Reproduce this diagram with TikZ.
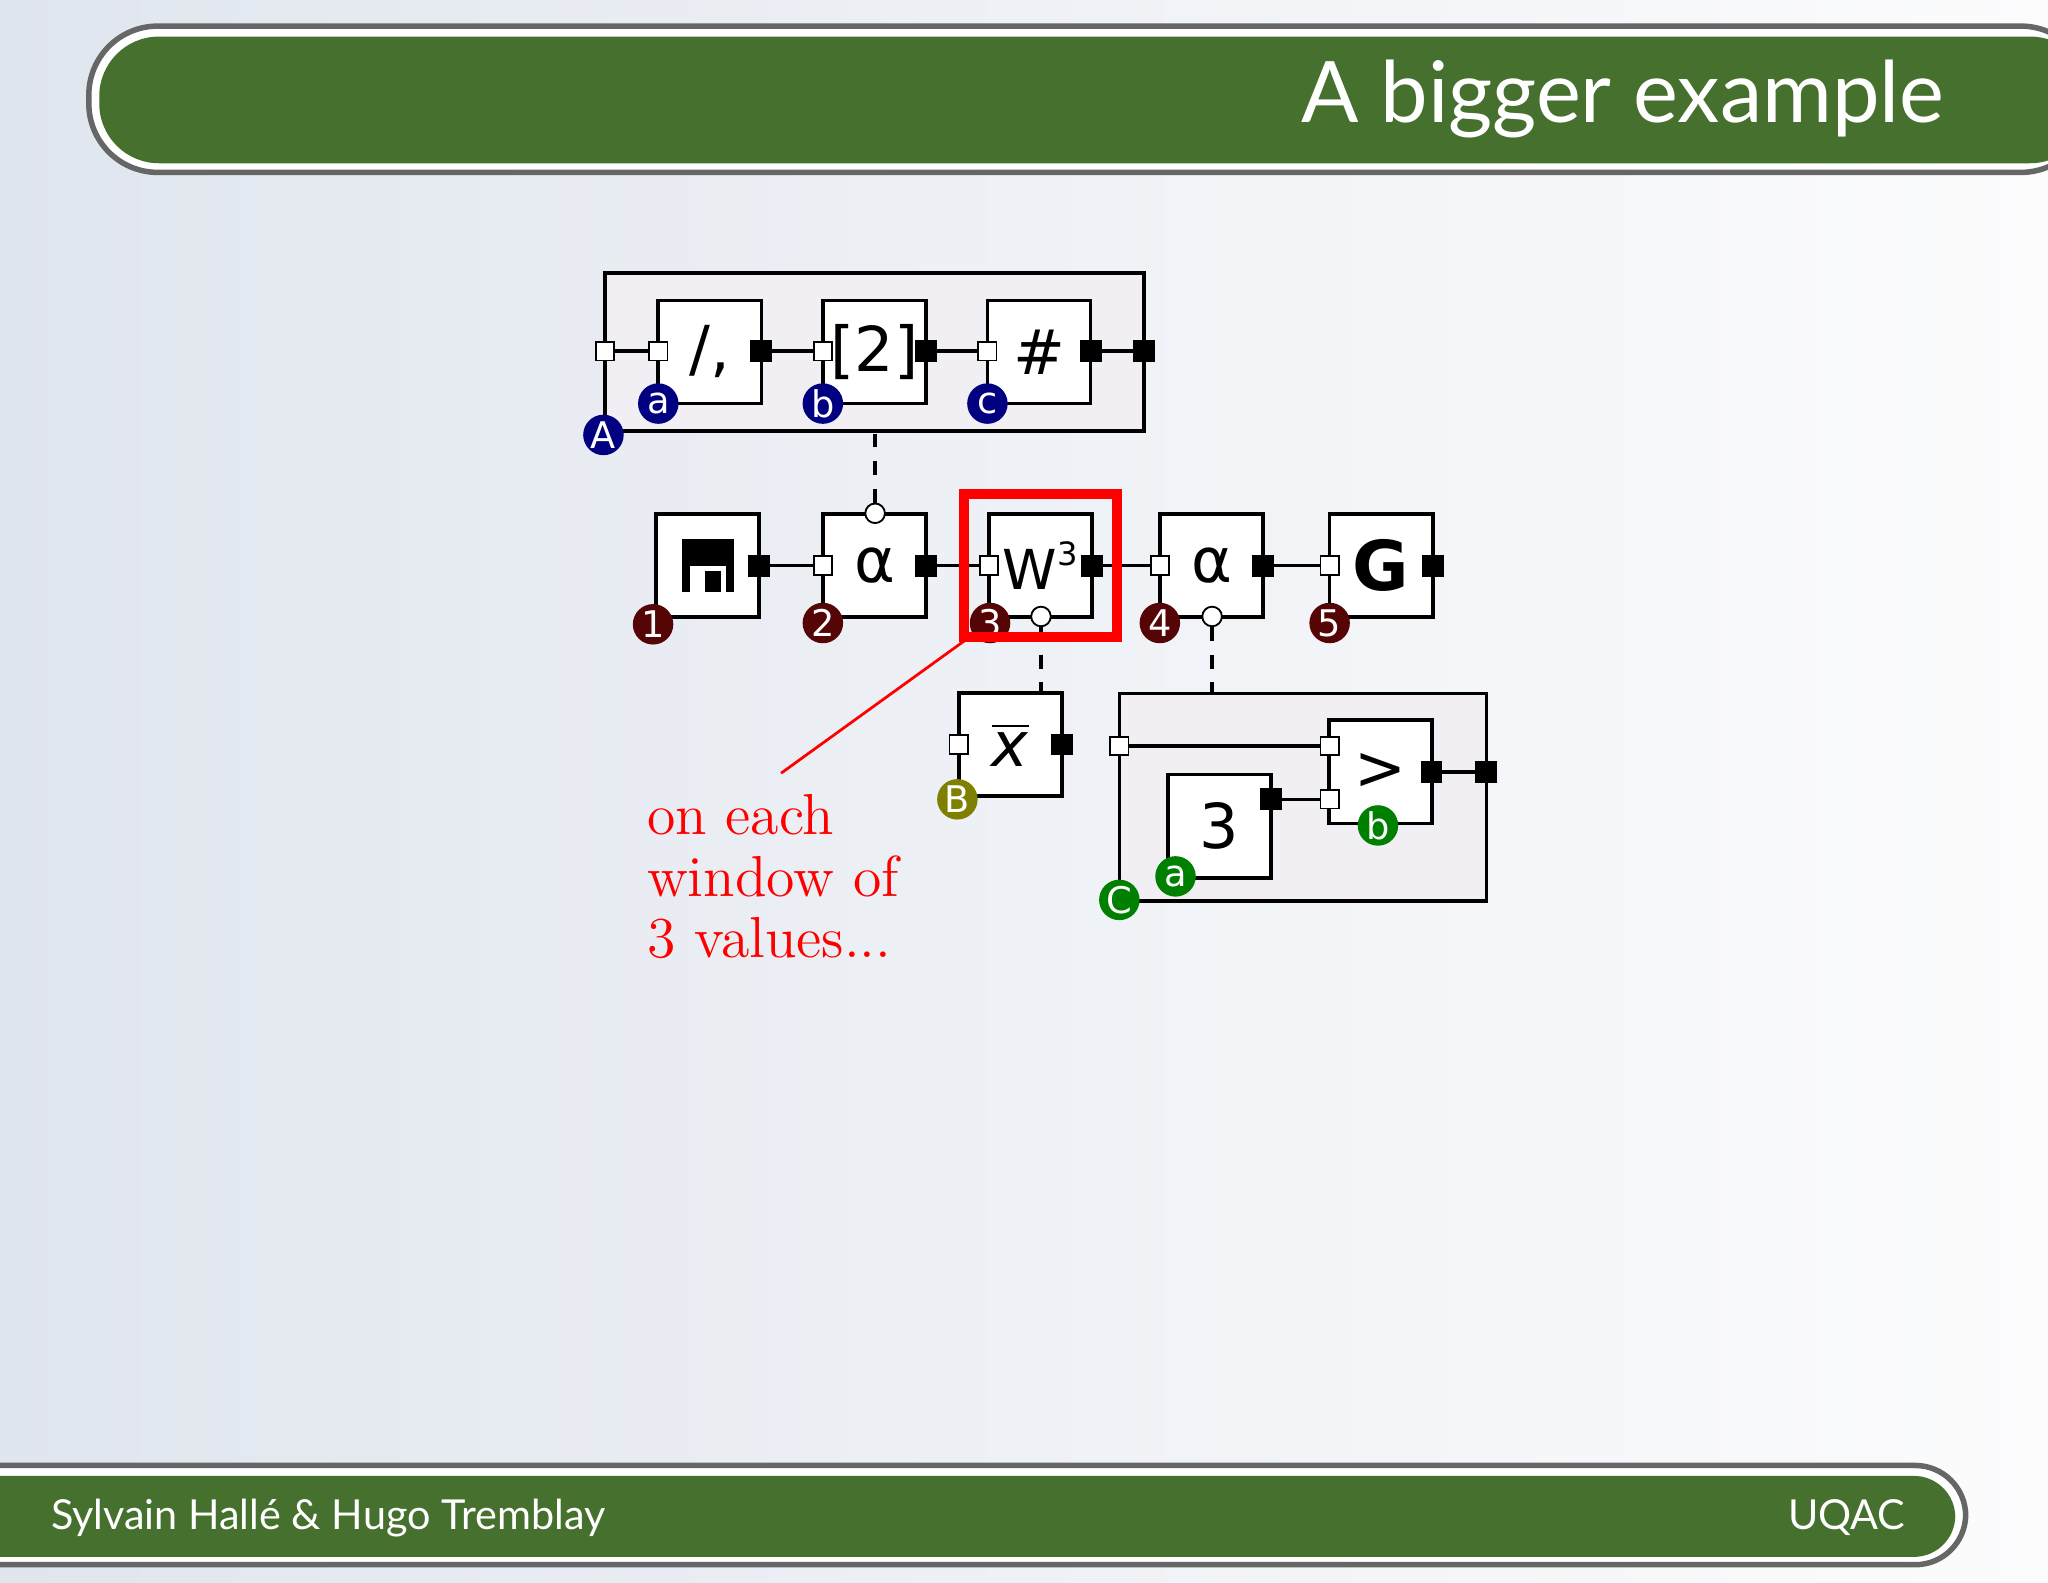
\documentclass[tikz,border=0pt]{standalone}
\usepackage{fontspec}
\setmainfont{Latin Modern Roman}
\newfontfamily\dejavu{DejaVu Sans}
\newfontfamily\slidefont{Lato}
\definecolor{barcol}{RGB}{70,112,45}
\definecolor{tagA}{RGB}{0,0,128}
\definecolor{tagN}{RGB}{85,5,5}
\definecolor{tagB}{RGB}{128,128,0}
\definecolor{tagC}{RGB}{0,128,0}
\definecolor{groupcol}{RGB}{241,239,243}
\begin{document}
\begin{tikzpicture}[x=0.1mm, y=-0.1mm, thick,
    proc/.style = {draw, fill=white, minimum size=0.79cm, inner sep=0pt, font=\dejavu\fontsize{13.5}{13.5}\selectfont},
    group/.style = {draw, fill=groupcol},
    inport/.style = {draw, fill=white, minimum size=0.14cm, inner sep=0pt, thin},
    outport/.style = {draw, fill=black, minimum size=0.14cm, inner sep=0pt},
    ctrl/.style = {circle, draw, fill=white, minimum size=0.15cm, inner sep=0pt, thin},
    tag/.style = {circle, fill=#1, text=white, minimum size=0.31cm, inner sep=0pt, font=\dejavu\fontsize{8}{8}\selectfont},
    pipe/.style = {line width=0.8pt}]
\useasboundingbox (0,0) rectangle (1568,1212);

% background and slide bars
\shade[left color={rgb,255:red,224;green,230;blue,238}, right color={rgb,255:red,252;green,252;blue,253}] (0,0) rectangle (1568,1212);
\begin{scope}[y=0.1mm]
\draw[fill=white, draw=gray!80!black, line width=1.2pt, rounded corners=15pt] (68,-20) -- (1600,-20) -- (1600,-132) -- (68,-132) -- cycle;
\fill[barcol, rounded corners=13pt] (76,-28) -- (1600,-28) -- (1600,-125) -- (76,-125) -- cycle;
\draw[fill=white, draw=gray!80!black, line width=1.2pt, rounded corners=11pt] (-40,-1122) -- (1505,-1122) -- (1505,-1198) -- (-40,-1198) -- cycle;
\fill[barcol, rounded corners=9pt] (-40,-1130) -- (1497,-1130) -- (1497,-1192) -- (-40,-1192) -- cycle;
\end{scope}
\node[anchor=east, text=white, font=\slidefont\fontsize{18.5}{18.5}\selectfont] (title) at (1502,76) {A bigger example};
\node[anchor=west, text=white, font=\slidefont\fontsize{9}{9}\selectfont] (authors) at (26,1162) {Sylvain Hallé \& Hugo Tremblay};
\node[anchor=east, text=white, font=\slidefont\fontsize{9}{9}\selectfont] (uqac) at (1472,1162) {UQAC};

% group A
\draw[group] (463,209) rectangle (876,330);
\node[proc] (slash) at (543.5,269.5) {/,};
\node[proc] (nth) at (669.5,269.5) {[2]};
\node[proc] (count) at (795.5,269.5) {\#};
\node[inport] (Ain) at (463,269) {};
\node[outport] (Aout) at (876,269) {};
\node[inport] (slashin) at (504,269) {};
\node[outport] (slashout) at (583,269) {};
\node[inport] (nthin) at (630,269) {};
\node[outport] (nthout) at (709,269) {};
\node[inport] (countin) at (756,269) {};
\node[outport] (countout) at (835,269) {};
\draw[pipe] (Ain) -- (slashin);
\draw[pipe] (slashout) -- (nthin);
\draw[pipe] (nthout) -- (countin);
\draw[pipe] (countout) -- (Aout);
\node[tag=tagA] (A) at (462,333) {A};
\node[tag=tagA] (a1) at (504,309) {a};
\node[tag=tagA] (b1) at (630,309) {b};
\node[tag=tagA] (c1) at (756,309) {c};

% main chain
\node[proc] (src) at (541.5,433) {};
\fill (522,413) rectangle (562,453);
\fill[white] (528,433) rectangle (556,453);
\fill (540,437) rectangle (552,453);
\node[proc] (alpha1) at (669.5,433) {α};
\node[proc, font=\dejavu\fontsize{12}{12}\selectfont] (win) at (796.5,433) {W\raisebox{0.8ex}{\fontsize{7}{7}\selectfont 3}};
\node[proc] (alpha2) at (927.5,433) {α};
\node[proc, font=\dejavu\bfseries\fontsize{15}{15}\selectfont] (glob) at (1057.5,433) {G};
\node[outport] (srcout) at (581,433) {};
\node[inport] (alpha1in) at (630,433) {};
\node[outport] (alpha1out) at (709,433) {};
\node[ctrl] (alpha1top) at (670,393) {};
\node[inport] (winin) at (757,433) {};
\node[outport] (winout) at (836,433) {};
\node[ctrl] (winbot) at (797,472) {};
\node[inport] (alpha2in) at (888,433) {};
\node[outport] (alpha2out) at (967,433) {};
\node[ctrl] (alpha2bot) at (928,472) {};
\node[inport] (globin) at (1018,433) {};
\node[outport] (globout) at (1097,433) {};
\draw[pipe] (srcout) -- (alpha1in);
\draw[pipe] (alpha1out) -- (winin);
\draw[pipe] (winout) -- (alpha2in);
\draw[pipe] (alpha2out) -- (globin);
\node[tag=tagN] (n1) at (500,478) {1};
\node[tag=tagN] (n2) at (630,477) {2};
\node[tag=tagN] (n3) at (758,477) {3};
\node[tag=tagN] (n4) at (888,477) {4};
\node[tag=tagN] (n5) at (1018,477) {5};

% average
\node[proc] (avg) at (773.5,570) {\dejavu\itshape$\overline{\hbox{x}}$};
\node[inport] (avgin) at (734,570) {};
\node[outport] (avgout) at (813,570) {};
\node[tag=tagB] (B) at (733,612) {B};

% group C
\draw[group] (857,531) rectangle (1138,690);
\node[proc] (gt) at (1057,591) {>};
\node[proc] (three) at (933.5,632.5) {3};
\node[inport] (Cin) at (857,571) {};
\node[outport] (Cout) at (1138,591) {};
\node[inport] (gtin1) at (1018,571) {};
\node[inport] (gtin2) at (1018,612) {};
\node[outport] (gtout) at (1096,591) {};
\node[outport] (threeout) at (973,612) {};
\draw[pipe] (Cin) -- (gtin1);
\draw[pipe] (threeout) -- (gtin2);
\draw[pipe] (gtout) -- (Cout);
\node[tag=tagC] (C) at (857,689) {C};
\node[tag=tagC] (a2) at (900,671) {a};
\node[tag=tagC] (b2) at (1055,632) {b};

% dashed links
\draw[dashed] (alpha1top) -- (670,330);
\draw[dashed] (winbot) -- (797,531);
\draw[dashed] (alpha2bot) -- (928,531);

% highlight
\draw[red, line width=2.2pt] (738,378) rectangle (855,488);
\coordinate (hl) at (742,488);
\node[anchor=north west, align=left, text=red, font=\fontsize{12.6}{13.4}\selectfont, inner sep=0pt] (note) at (494,607) {on each\\window of\\3 values...};
\draw[red, semithick] (hl) -- (598,592);
\end{tikzpicture}
\end{document}
